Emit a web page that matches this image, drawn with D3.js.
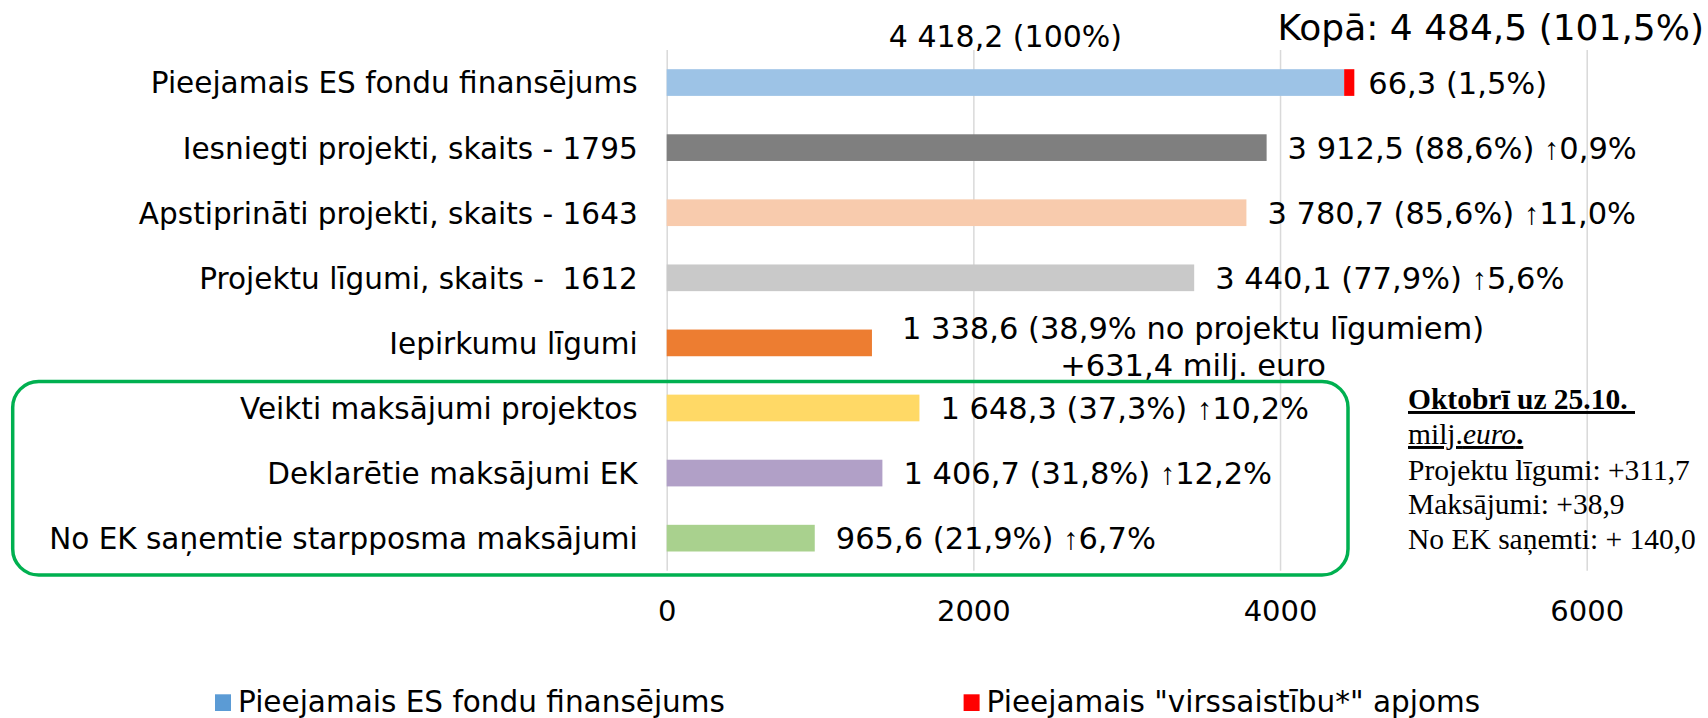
<!DOCTYPE html>
<html>
<head>
<meta charset="utf-8" />
<title>ES fondu finansējums</title>
<style>
html, body {
  margin: 0;
  background-color: #ffffff;
}
text {
  font-family: "DejaVu Sans", Verdana, sans-serif;
  fill: #000000;
  white-space: pre;
}
.note text {
  font-family: "Liberation Serif", "Times New Roman", serif;
}
.arrow {
  font-family: "Liberation Sans", Arial, sans-serif;
}
</style>
</head>
<body>
<script src="https://d3js.org/d3.v7.min.js"></script>
<script>

  // ---------------------------------------------------------
  // Data

  const categories = [
    'Pieejamais ES fondu finansējums',
    'Iesniegti projekti, skaits - 1795',
    'Apstiprināti projekti, skaits - 1643',
    'Projektu līgumi, skaits -  1612',
    'Iepirkumu līgumi',
    'Veikti maksājumi projektos',
    'Deklarētie maksājumi EK',
    'No EK saņemtie starpposma maksājumi'
  ]

  const values = [4418.2, 3912.5, 3780.7, 3440.1, 1338.6, 1648.3, 1406.7, 965.6]
  // "virssaistību" part, only on the first bar
  const overCommit = [66.3, 0, 0, 0, 0, 0, 0, 0]

  const barColors = ['#9DC3E6', '#7F7F7F', '#F8CBAD', '#C9C9C9', '#ED7D31', '#FFD966', '#B1A0C7', '#A9D18E']

  const valueLabels = [
    ['66,3 (1,5%)'],
    ['3 912,5 (88,6%) ↑0,9%'],
    ['3 780,7 (85,6%) ↑11,0%'],
    ['3 440,1 (77,9%) ↑5,6%'],
    ['1 338,6 (38,9% no projektu līgumiem)', '+631,4 milj. euro'],
    ['1 648,3 (37,3%) ↑10,2%'],
    ['1 406,7 (31,8%) ↑12,2%'],
    ['965,6 (21,9%) ↑6,7%']
  ]

  const totalLabel = '4 418,2 (100%)'
  const kopaLabel = 'Kopā: 4 484,5 (101,5%)'

  const xTicks = [0, 2000, 4000, 6000]

  const legendNames = ['Pieejamais ES fondu finansējums', 'Pieejamais "virssaistību*" apjoms']
  const legendColors = ['#5B9BD5', '#FF0000']

  const noteTitle = 'Oktobrī uz 25.10. '
  const noteLines = ['Projektu līgumi: +311,7', 'Maksājumi: +38,9', 'No EK saņemti: + 140,0']

  // ---------------------------------------------------------
  // Setup

  const w = 1708
  const h = 718
  const fontSize = 29.5

  const svg = d3.select('body').append('svg')
    .attr('width', w)
    .attr('height', h)

  svg.append('rect')
    .attr('width', w)
    .attr('height', h)
    .attr('fill', '#ffffff')

  const x = d3.scaleLinear()
    .domain([0, 6000])
    .range([666.7, 1586.7])

  const y = d3.scaleBand()
    .domain(categories)
    .range([50, 570.7])
    .paddingInner(0.59)
    .paddingOuter(0.295)

  const plotBottom = 570.7
  const plotTop = 50

  // gridlines + tick labels
  const xAxis = svg.append('g')
    .attr('transform', `translate(0,${plotBottom})`)
    .call(d3.axisBottom(x)
      .tickValues(xTicks)
      .tickFormat(d3.format('d'))
      .tickSize(-(plotBottom - plotTop))
      .tickPadding(30))

  xAxis.select('.domain').remove()
  xAxis.selectAll('line')
    .attr('stroke', '#D9D9D9')
    .attr('stroke-width', 1.5)
  xAxis.selectAll('text')
    .attr('font-family', '"DejaVu Sans", Verdana, sans-serif')
    .attr('font-size', 29)
    .attr('fill', '#000')

  // category labels
  svg.append('g').selectAll('text')
    .data(categories)
    .enter().append('text')
    .attr('x', x(0) - 29)
    .attr('y', d => y(d) + y.bandwidth() / 2)
    .attr('dy', '0.37em')
    .attr('text-anchor', 'end')
    .attr('font-size', fontSize)
    .text(d => d)

  // bars
  svg.append('g').selectAll('rect')
    .data(values)
    .enter().append('rect')
    .attr('x', x(0))
    .attr('y', (d, i) => y(categories[i]))
    .attr('width', d => x(d) - x(0))
    .attr('height', y.bandwidth())
    .attr('fill', (d, i) => barColors[i])

  svg.append('g').selectAll('rect')
    .data(overCommit)
    .enter().append('rect')
    .attr('x', (d, i) => x(values[i]))
    .attr('y', (d, i) => y(categories[i]))
    .attr('width', (d, i) => x(values[i] + d) - x(values[i]))
    .attr('height', y.bandwidth())
    .attr('fill', legendColors[1])

  // write a line, the arrow goes in a thinner font
  function addLine(t, str) {
    const parts = str.split('↑')
    const span = t.append('tspan')
    span.append('tspan').text(parts[0])
    if (parts.length > 1) {
      span.append('tspan').attr('class', 'arrow').text('↑')
      span.append('tspan').text(parts[1])
    }
    return span
  }

  // value labels
  const labels = svg.append('g').selectAll('text')
    .data(valueLabels)
    .enter().append('text')
    .attr('font-size', 30.5)

  labels.each(function(lines, i) {
    const t = d3.select(this)
    const cy = y(categories[i]) + y.bandwidth() / 2
    const end = x(values[i] + overCommit[i])
    if (lines.length === 1) {
      t.attr('x', end + (i === 0 ? 14 : 21))
        .attr('y', cy)
        .attr('dy', '0.37em')
      addLine(t, lines[0])
    } else {
      // two lines, centered on each other
      const first = t.append('tspan').text(lines[0])
      const len = first.node().getComputedTextLength()
      const cx = end + 30 + len / 2
      t.attr('text-anchor', 'middle')
      first.attr('x', cx).attr('y', cy - 15).attr('dy', '0.37em')
      t.append('tspan').text(lines[1])
        .attr('x', cx).attr('y', cy + 22).attr('dy', '0.37em')
    }
  })

  // totals on top
  svg.append('text')
    .attr('x', (x(0) + x(values[0])) / 2)
    .attr('y', 46.7)
    .attr('text-anchor', 'middle')
    .attr('font-size', 30)
    .text(totalLabel)

  svg.append('text')
    .attr('x', 1704)
    .attr('y', 40)
    .attr('text-anchor', 'end')
    .attr('font-size', 36)
    .text(kopaLabel)

  // green frame around payments
  svg.append('rect')
    .attr('x', 12.7)
    .attr('y', 381.5)
    .attr('width', 1348 - 12.7)
    .attr('height', 575 - 381.5)
    .attr('rx', 26)
    .attr('ry', 26)
    .attr('fill', 'none')
    .attr('stroke', '#00B050')
    .attr('stroke-width', 3.5)

  // note on the right
  const note = svg.append('g').attr('class', 'note')
    .attr('font-size', 29.5)

  note.append('text')
    .attr('x', 1408)
    .attr('y', 409)
    .attr('font-weight', 'bold')
    .attr('text-decoration', 'underline')
    .text(noteTitle)

  const unit = note.append('text')
    .attr('x', 1408)
    .attr('y', 444)
    .attr('text-decoration', 'underline')
  unit.append('tspan').text('milj.')
  unit.append('tspan').attr('font-style', 'italic').text('euro')
  unit.append('tspan').attr('font-weight', 'bold').text('.')

  note.selectAll('text.line')
    .data(noteLines)
    .enter().append('text')
    .attr('class', 'line')
    .attr('x', 1408)
    .attr('y', (d, i) => 480 + i * 34.3)
    .text(d => d)

  // legend
  const legendX = [215, 963.6]
  const legend = svg.append('g').selectAll('g')
    .data(legendNames)
    .enter().append('g')
    .attr('transform', (d, i) => `translate(${legendX[i]},0)`)

  legend.append('rect')
    .attr('x', 0)
    .attr('y', 694.3)
    .attr('width', 16)
    .attr('height', 16.7)
    .attr('fill', (d, i) => legendColors[i])

  legend.append('text')
    .attr('x', 23)
    .attr('y', 711.5)
    .attr('font-size', fontSize)
    .text(d => d)

</script>
</body>
</html>
